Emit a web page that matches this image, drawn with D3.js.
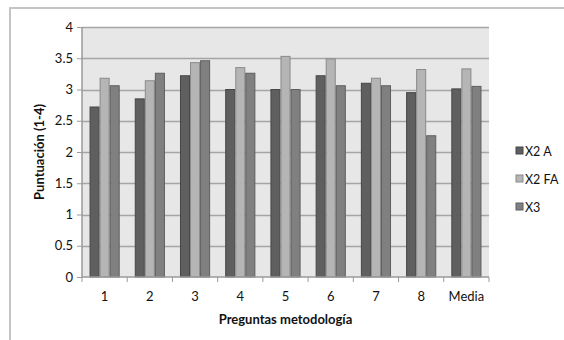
<!DOCTYPE html>
<html>
<head>
<meta charset="utf-8">
<script src="https://cdn.jsdelivr.net/npm/d3@7"></script>
<style>
  body { margin: 0; background: #fff; }
  text { font-family: Lato, "Open Sans", sans-serif; fill: #111; }
</style>
</head>
<body>
<div id="chart"></div>
<script>
// categories and series
var categories = ["1", "2", "3", "4", "5", "6", "7", "8", "Media"];
var seriesNames = ["X2 A", "X2 FA", "X3"];
var x2a  = [2.72, 2.85, 3.22, 3.00, 3.00, 3.22, 3.10, 2.95, 3.01];
var x2fa = [3.18, 3.14, 3.43, 3.35, 3.53, 3.49, 3.18, 3.32, 3.33];
var x3   = [3.06, 3.26, 3.46, 3.26, 3.00, 3.06, 3.06, 2.26, 3.05];
var yTicks = [0, 0.5, 1, 1.5, 2, 2.5, 3, 3.5, 4];

var colors = ["#5f5f5f", "#b5b5b5", "#808080"];
var strokes = ["#474747", "#8a8a8a", "#5e5e5e"];

var W = 564, H = 340;
var margin = {top: 27, left: 82, right: 75, bottom: 63};
var width = W - margin.left - margin.right,
    height = H - margin.top - margin.bottom;

var svg = d3.select("#chart").append("svg")
    .attr("width", W)
    .attr("height", H);

// outer chart frame (cut off on right and bottom)
svg.append("path")
    .attr("d", "M10," + H + "V8H" + W)
    .attr("fill", "none")
    .attr("stroke", "#c4c4c4")
    .attr("stroke-width", 2);

var g = svg.append("g")
    .attr("transform", "translate(" + margin.left + "," + margin.top + ")");

var x = d3.scaleBand().domain(categories).range([0, width]);
var xInner = d3.scaleBand().domain(seriesNames)
    .range([0, x.bandwidth()]).paddingInner(0).paddingOuter(0.75);
var y = d3.scaleLinear().domain([0, 4]).range([height, 0]);

// plot background
g.append("rect")
    .attr("width", width)
    .attr("height", height)
    .attr("fill", "#e7e7e7");

// gridlines
g.selectAll(".grid").data(yTicks.slice(1)).enter().append("line")
    .attr("x1", 0).attr("x2", width)
    .attr("y1", function(d) { return Math.round(y(d)) + 0.5; })
    .attr("y2", function(d) { return Math.round(y(d)) + 0.5; })
    .attr("stroke", "#a5a5a5")
    .attr("stroke-width", 1.5);

// bars
var data = [x2a, x2fa, x3];
data.forEach(function(vals, s) {
  g.selectAll(".bar" + s).data(vals).enter().append("rect")
      .attr("x", function(d, i) { return x(categories[i]) + xInner(seriesNames[s]) + 0.5; })
      .attr("y", function(d) { return y(d); })
      .attr("width", xInner.bandwidth() - 1)
      .attr("height", function(d) { return height - y(d); })
      .attr("fill", colors[s])
      .attr("stroke", strokes[s])
      .attr("stroke-width", 1);
});

// y axis
var yAxis = d3.axisLeft(y).tickValues(yTicks).tickSize(5).tickPadding(4)
    .tickFormat(function(d) { return d; });
var ya = g.append("g").call(yAxis);
ya.select(".domain").attr("stroke", "#9a9a9a").attr("stroke-width", 1.5)
    .attr("d", "M0,0V" + height);
ya.selectAll(".tick line").attr("stroke", "#9a9a9a");
ya.selectAll("text").style("font-size", "13px").attr("fill", "#111");

// x axis: ticks at category boundaries
var xa = g.append("g").attr("transform", "translate(0," + height + ")");
xa.append("line").attr("x1", 0).attr("x2", width)
    .attr("stroke", "#9a9a9a").attr("stroke-width", 1.5);
var bounds = categories.map(function(c) { return x(c); }).concat([width]);
xa.selectAll(".xt").data(bounds).enter().append("line")
    .attr("x1", function(d) { return d; }).attr("x2", function(d) { return d; })
    .attr("y1", 0).attr("y2", 5)
    .attr("stroke", "#9a9a9a");
xa.selectAll(".xl").data(categories).enter().append("text")
    .attr("x", function(d) { return x(d) + x.bandwidth() / 2; })
    .attr("y", 24)
    .attr("text-anchor", "middle")
    .style("font-size", "13px")
    .text(function(d) { return d; });

// axis titles
g.append("text")
    .attr("x", width / 2 - 0)
    .attr("y", height + 47)
    .attr("text-anchor", "middle")
    .style("font-size", "13px")
    .style("font-weight", "bold")
    .text("Preguntas metodología");

g.append("text")
    .attr("transform", "translate(" + (-38) + "," + (height / 2) + ") rotate(-90)")
    .attr("text-anchor", "middle")
    .style("font-size", "13px")
    .style("font-weight", "bold")
    .text("Puntuación (1-4)");

// legend
var legend = svg.append("g").attr("transform", "translate(516,151)");
seriesNames.forEach(function(name, i) {
  var row = legend.append("g").attr("transform", "translate(0," + (i * 28) + ")");
  row.append("rect")
      .attr("x", 0).attr("y", -4)
      .attr("width", 7).attr("height", 7)
      .attr("fill", colors[i])
      .attr("stroke", strokes[i]);
  row.append("text")
      .attr("x", 9).attr("y", 4.5)
      .style("font-size", "12.5px")
      .text(name);
});
</script>
</body>
</html>
